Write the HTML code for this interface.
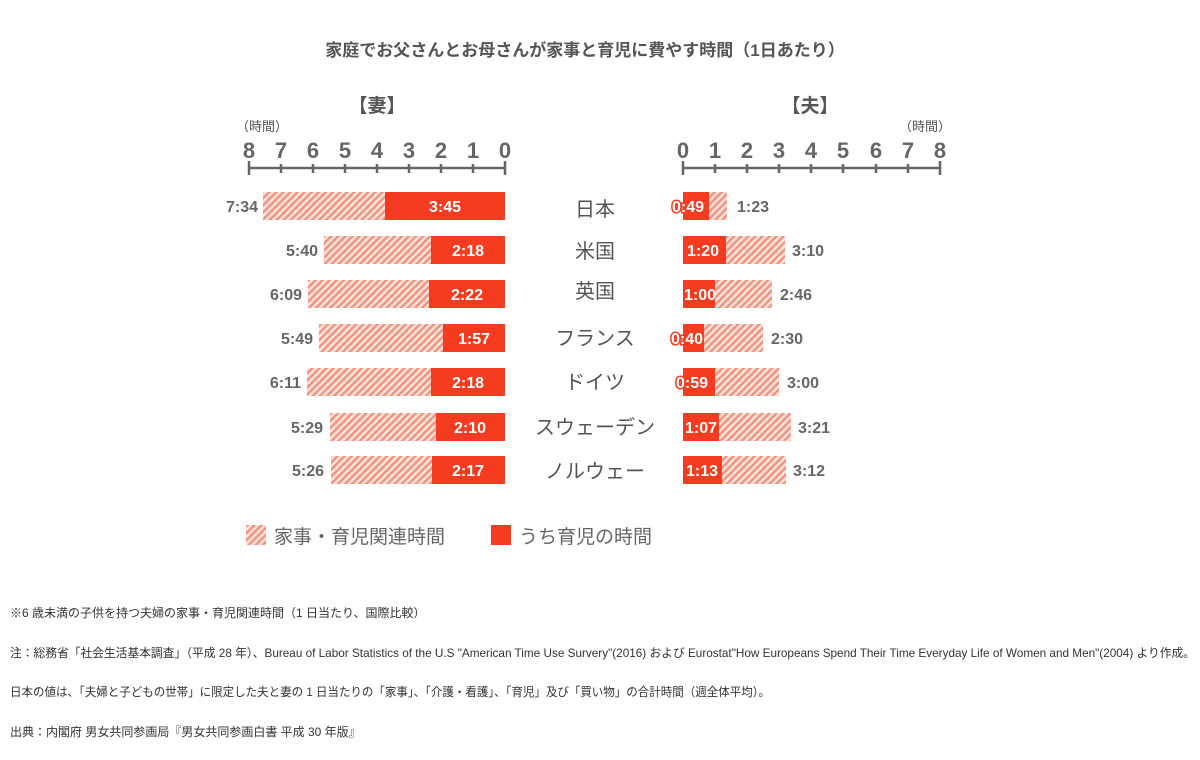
<!DOCTYPE html>
<html><head><meta charset="utf-8"><style>
html,body{margin:0;padding:0;background:#fff;}
svg{display:block;}
text{font-family:"Liberation Sans","Noto Sans CJK JP",sans-serif;}
.n{font-weight:bold;font-size:16px;fill:#666;}
.w{font-weight:bold;font-size:16px;fill:#fff;}
.o{font-weight:bold;font-size:16px;fill:#fff;stroke:#f33d22;stroke-width:3px;paint-order:stroke;}
.c{font-size:20px;fill:#555;}
.f{font-size:12px;fill:#333;}
</style></head><body>
<svg width="1200" height="760" viewBox="0 0 1200 760" xmlns="http://www.w3.org/2000/svg">
<defs>
<pattern id="h" patternUnits="userSpaceOnUse" width="5" height="5" patternTransform="rotate(45)">
<rect width="5" height="5" fill="#fde3dc"/>
<rect width="2.4" height="5" fill="#f4907c"/>
</pattern>
</defs>
<text x="585" y="56" text-anchor="middle" font-size="17" font-weight="bold" fill="#555">家庭でお父さんとお母さんが家事と育児に費やす時間（1日あたり）</text>
<text x="377" y="112" text-anchor="middle" font-size="19" font-weight="bold" fill="#555">【妻】</text>
<text x="810" y="112" text-anchor="middle" font-size="19" font-weight="bold" fill="#555">【夫】</text>
<text x="262" y="131" text-anchor="middle" font-size="13" fill="#555">（時間）</text>
<text x="925" y="131" text-anchor="middle" font-size="13" fill="#555">（時間）</text>
<g font-size="22" font-weight="bold" fill="#666" text-anchor="middle">
<text x="249" y="158">8</text><text x="281" y="158">7</text><text x="313" y="158">6</text><text x="345" y="158">5</text><text x="377" y="158">4</text><text x="409" y="158">3</text><text x="441" y="158">2</text><text x="473" y="158">1</text><text x="505" y="158">0</text>
<text x="683" y="158">0</text><text x="715" y="158">1</text><text x="747" y="158">2</text><text x="779" y="158">3</text><text x="811" y="158">4</text><text x="843" y="158">5</text><text x="876" y="158">6</text><text x="908" y="158">7</text><text x="940" y="158">8</text>
</g>
<g stroke="#666" stroke-width="2.5">
<line x1="249" y1="168" x2="505" y2="168"/>
<line x1="683" y1="168" x2="940" y2="168"/>
<path d="M249 161v14M281 164v9M313 164v9M345 164v9M377 164v9M409 164v9M441 164v9M473 164v9M505 161v14"/>
<path d="M683 161v14M715 164v9M747 164v9M779 164v9M811 164v9M843 164v9M876 164v9M908 164v9M940 161v14"/>
</g>
<g fill="url(#h)">
<rect x="263" y="192" width="242" height="28"/><rect x="324" y="236" width="181" height="28"/><rect x="308" y="280" width="197" height="28"/><rect x="319" y="324" width="186" height="28"/><rect x="307" y="368" width="198" height="28"/><rect x="330" y="413" width="175" height="28"/><rect x="331" y="456" width="174" height="28"/>
<rect x="683" y="192" width="44" height="28"/><rect x="683" y="236" width="102" height="28"/><rect x="683" y="280" width="89" height="28"/><rect x="683" y="324" width="80" height="28"/><rect x="683" y="368" width="96" height="28"/><rect x="683" y="413" width="108" height="28"/><rect x="683" y="456" width="103" height="28"/>
</g>
<g fill="#f53c20">
<rect x="385" y="192" width="120" height="28"/><rect x="431" y="236" width="74" height="28"/><rect x="429" y="280" width="76" height="28"/><rect x="443" y="324" width="62" height="28"/><rect x="431" y="368" width="74" height="28"/><rect x="436" y="413" width="69" height="28"/><rect x="432" y="456" width="73" height="28"/>
<rect x="683" y="192" width="26" height="28"/><rect x="683" y="236" width="43" height="28"/><rect x="683" y="280" width="32" height="28"/><rect x="683" y="324" width="21" height="28"/><rect x="683" y="368" width="32" height="28"/><rect x="683" y="413" width="36" height="28"/><rect x="683" y="456" width="39" height="28"/>
</g>
<g class="n" text-anchor="end">
<text x="258" y="212">7:34</text><text x="318" y="256">5:40</text><text x="302" y="300">6:09</text><text x="313" y="344">5:49</text><text x="301" y="388">6:11</text><text x="323" y="433">5:29</text><text x="324" y="476">5:26</text>
</g>
<g class="n">
<text x="737" y="212">1:23</text><text x="792" y="256">3:10</text><text x="780" y="300">2:46</text><text x="771" y="344">2:30</text><text x="787" y="388">3:00</text><text x="798" y="433">3:21</text><text x="793" y="476">3:12</text>
</g>
<g class="w" text-anchor="middle">
<text x="445" y="212">3:45</text><text x="468" y="256">2:18</text><text x="467" y="300">2:22</text><text x="474" y="344">1:57</text><text x="468" y="388">2:18</text><text x="470" y="433">2:10</text><text x="468" y="476">2:17</text>
<text x="703" y="256">1:20</text><text x="700" y="300">1:00</text><text x="701" y="433">1:07</text><text x="702" y="476">1:13</text>
</g>
<g class="o" text-anchor="middle">
<text x="688" y="212">0:49</text><text x="687" y="344">0:40</text><text x="692" y="388">0:59</text>
</g>
<g class="c" text-anchor="middle">
<text x="595" y="216">日本</text><text x="595" y="258">米国</text><text x="595" y="298">英国</text><text x="595" y="345">フランス</text><text x="595" y="389">ドイツ</text><text x="595" y="434">スウェーデン</text><text x="595" y="478">ノルウェー</text>
</g>
<rect x="246" y="525" width="20" height="20" fill="url(#h)"/>
<text x="274" y="543" font-size="19" fill="#666">家事・育児関連時間</text>
<rect x="491" y="525" width="20" height="20" fill="#f53c20"/>
<text x="519" y="543" font-size="19" fill="#666">うち育児の時間</text>
<g class="f">
<text x="10" y="617">※6 歳未満の子供を持つ夫婦の家事・育児関連時間（1 日当たり、国際比較）</text>
<text x="10" y="657" textLength="1185" lengthAdjust="spacingAndGlyphs">注：総務省「社会生活基本調査」（平成 28 年）、Bureau of Labor Statistics of the U.S "American Time Use Survery"(2016) および Eurostat"How Europeans Spend Their Time Everyday Life of Women and Men"(2004) より作成。</text>
<text x="10" y="696" textLength="760" lengthAdjust="spacingAndGlyphs">日本の値は、「夫婦と子どもの世帯」に限定した夫と妻の 1 日当たりの「家事」、「介護・看護」、「育児」及び「買い物」の合計時間（週全体平均）。</text>
<text x="10" y="736">出典：内閣府 男女共同参画局『男女共同参画白書 平成 30 年版』</text>
</g>
</svg>
</body></html>
